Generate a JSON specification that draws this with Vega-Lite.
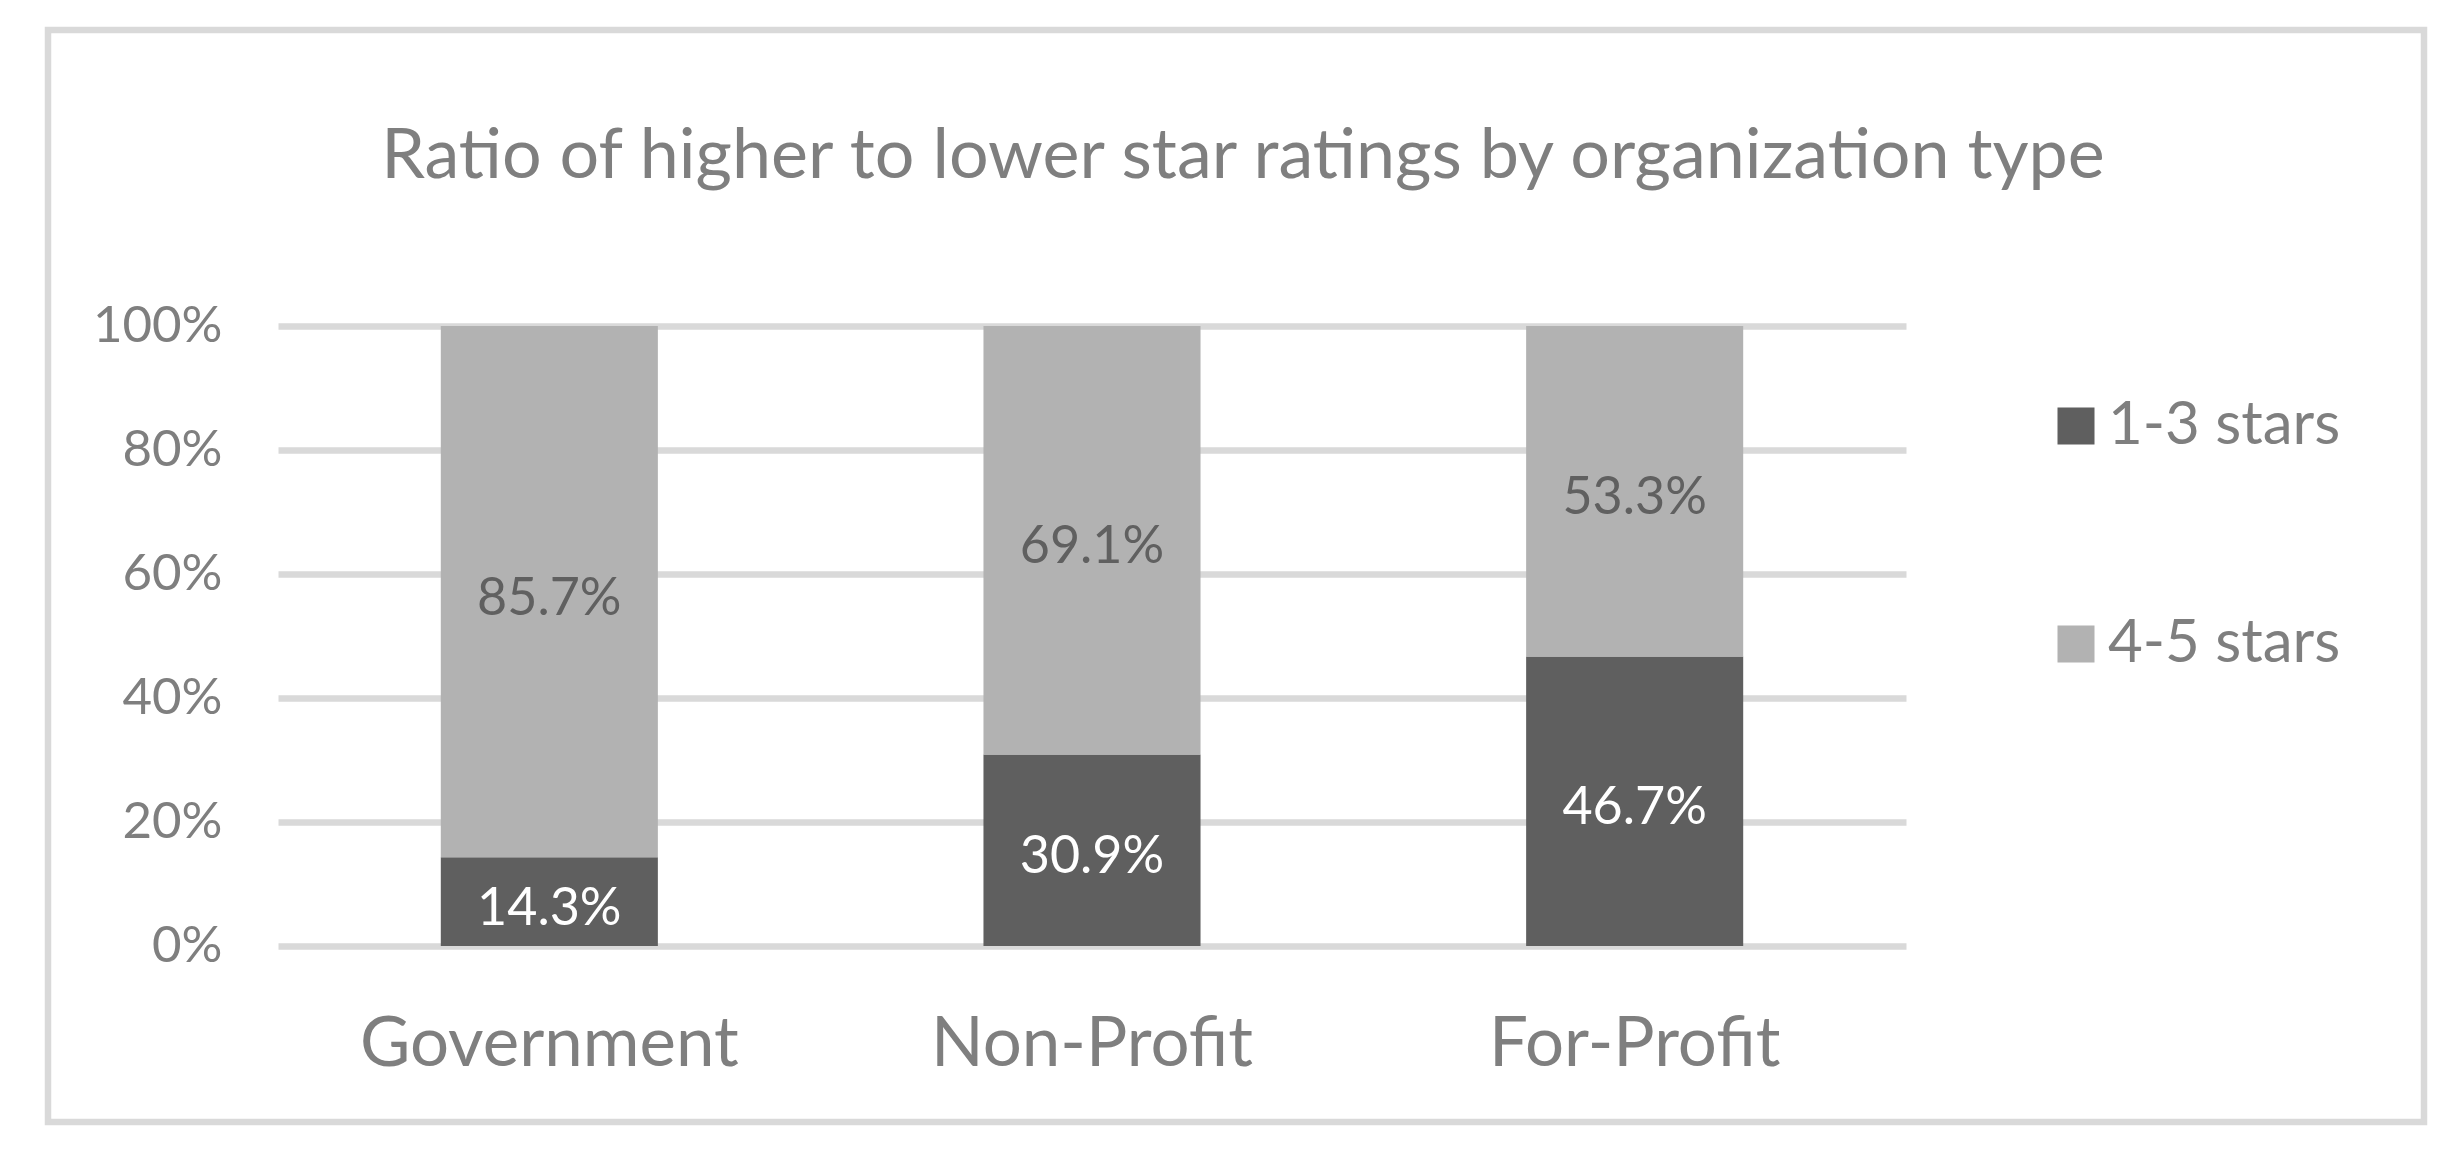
{
  "$schema": "https://vega.github.io/schema/vega-lite/v6.json",
  "autosize": {"type": "none"},
  "padding": {"left": 48, "top": 30, "right": 39, "bottom": 40},
  "width": 2376,
  "height": 1092,
  "background": "white",
  "config": {
    "font": "Lato",
    "view": {"stroke": "#d9d9d9", "strokeWidth": 6.5}
  },
  "title": {
    "text": "Ratio of higher to lower star ratings by organization type",
    "anchor": "middle",
    "frame": "group",
    "baseline": "alphabetic",
    "offset": -218,
    "dx": 7,
    "fontSize": 70,
    "fontWeight": "normal",
    "color": "#7f7f7f",
    "limit": 0
  },
  "data": {
    "values": [
      {"type": "Government", "rating": "1-3 stars", "share": 0.143},
      {"type": "Government", "rating": "4-5 stars", "share": 0.857},
      {"type": "Non-Profit", "rating": "1-3 stars", "share": 0.309},
      {"type": "Non-Profit", "rating": "4-5 stars", "share": 0.691},
      {"type": "For-Profit", "rating": "1-3 stars", "share": 0.467},
      {"type": "For-Profit", "rating": "4-5 stars", "share": 0.533}
    ]
  },
  "encoding": {
    "x": {
      "field": "type",
      "type": "nominal",
      "sort": ["Government", "Non-Profit", "For-Profit"],
      "scale": {"range": [230, 1858], "paddingInner": 0.6, "paddingOuter": 0.3},
      "axis": {
        "title": null,
        "domain": false,
        "ticks": false,
        "tickSize": 0,
        "grid": false,
        "labelAngle": 0,
        "labelFontSize": 69,
        "labelColor": "#7f7f7f",
        "labelBaseline": "alphabetic",
        "labelPadding": 0,
        "labelLimit": 0,
        "offset": -57
      }
    },
    "y": {
      "field": "share",
      "type": "quantitative",
      "stack": "zero",
      "scale": {"domain": [0, 1], "range": [916, 296], "nice": false, "zero": true},
      "axis": {
        "title": null,
        "domain": false,
        "ticks": false,
        "tickSize": 0,
        "values": [0, 0.2, 0.4, 0.6, 0.8, 1],
        "format": ".0%",
        "labelFontSize": 51,
        "labelColor": "#7f7f7f",
        "labelPadding": 0,
        "offset": -174,
        "gridColor": "#d9d9d9",
        "gridWidth": 6.5
      }
    }
  },
  "layer": [
    {
      "mark": {"type": "bar"},
      "encoding": {
        "color": {
          "field": "rating",
          "type": "nominal",
          "scale": {"domain": ["1-3 stars", "4-5 stars"], "range": ["#5f5f5f", "#b2b2b2"]},
          "legend": {
            "title": null,
            "orient": "none",
            "legendX": 1998,
            "legendY": 366,
            "padding": 0,
            "symbolType": "square",
            "symbolSize": 1369,
            "symbolStrokeWidth": 0,
            "labelFontSize": 60,
            "labelColor": "#7f7f7f",
            "labelOffset": 2,
            "labelLimit": 0,
            "rowPadding": 158
          }
        },
        "order": {"field": "rating", "sort": "ascending"}
      }
    },
    {
      "mark": {"type": "text", "fontSize": 52, "baseline": "middle", "dy": 7},
      "encoding": {
        "y": {"field": "share", "type": "quantitative", "stack": "zero", "bandPosition": 0.5},
        "text": {"field": "share", "type": "quantitative", "format": ".1%"},
        "color": {
          "condition": {"test": "datum.rating == '1-3 stars'", "value": "#ffffff"},
          "value": "#606060"
        },
        "order": {"field": "rating", "sort": "ascending"}
      }
    }
  ]
}
